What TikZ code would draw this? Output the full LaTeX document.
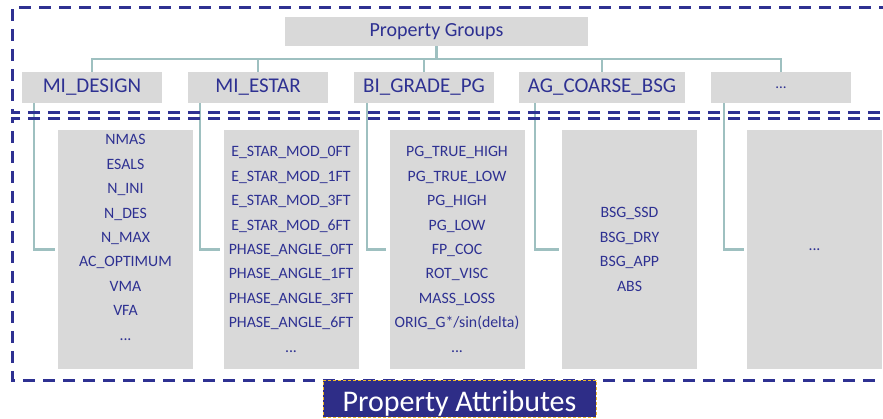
\documentclass[tikz,border=0pt]{standalone}
\usepackage{fontspec}
\setmainfont{Carlito}
\definecolor{navy}{RGB}{46,49,146}
\definecolor{boxgray}{RGB}{217,217,217}
\definecolor{treeline}{RGB}{158,192,192}
\definecolor{gold}{RGB}{240,185,40}
\definecolor{labelblue}{RGB}{46,45,135}

\begin{document}
\begin{tikzpicture}[x=1pt,y=-1pt,
  group/.style={fill=boxgray,text=navy,minimum width=140pt,minimum height=31pt,inner sep=0pt,font=\fontsize{21}{24}\selectfont},
  attr/.style={fill=boxgray,text=navy,minimum width=135pt,minimum height=239pt,inner sep=0pt,align=center,font=\fontsize{15.8}{24.4}\selectfont},
  tree/.style={draw=treeline,line width=2.2pt},
  frame/.style={draw=navy,line width=3pt,dash pattern=on 12pt off 8pt}]
\clip (0,0) rectangle (883,419);
\node[group,minimum width=303pt,minimum height=29pt,font=\fontsize{20}{24}\selectfont] (pg) at (436.5,31.5) {Property Groups};
\node[group] (g1) at (92,87.5) {MI\_DESIGN};
\node[group] (g2) at (258,87.5) {MI\_ESTAR};
\node[group] (g3) at (424,87.5) {BI\_GRADE\_PG};
\node[group,minimum width=166pt] (g4) at (602,87.5) {AG\_COARSE\_BSG};
\node[group,font=\fontsize{15}{18}\selectfont] (g5) at (781,87.5) {...};
\draw[tree] (pg.south) -- ++(0,13) -| (g1.north);
\draw[tree] (pg.south) -- ++(0,13) -| (g2.north);
\draw[tree] (pg.south) -- ++(0,13) -| (g3.north);
\draw[tree] (pg.south) -- ++(0,13) -| (g4.north);
\draw[tree] (pg.south) -- ++(0,13) -| (g5.north);
\node[attr] (a1) at (125.5,249.5) {NMAS\\ESALS\\N\_INI\\N\_DES\\N\_MAX\\AC\_OPTIMUM\\VMA\\VFA\\...\\\mbox{}};
\node[attr] (a2) at (291,249.5) {E\_STAR\_MOD\_0FT\\E\_STAR\_MOD\_1FT\\E\_STAR\_MOD\_3FT\\E\_STAR\_MOD\_6FT\\PHASE\_ANGLE\_0FT\\PHASE\_ANGLE\_1FT\\PHASE\_ANGLE\_3FT\\PHASE\_ANGLE\_6FT\\...};
\node[attr] (a3) at (457,249.5) {PG\_TRUE\_HIGH\\PG\_TRUE\_LOW\\PG\_HIGH\\PG\_LOW\\FP\_COC\\ROT\_VISC\\MASS\_LOSS\\ORIG\_G*/sin(delta)\\...};
\node[attr] (a4) at (629.5,249.5) {BSG\_SSD\\BSG\_DRY\\BSG\_APP\\ABS};
\node[attr] (a5) at (814.5,249.5) {...};
\draw[tree,shorten >=3pt] ([xshift=12pt]g1.south west) |- (a1.west);
\draw[tree,shorten >=3pt] ([xshift=12pt]g2.south west) |- (a2.west);
\draw[tree,shorten >=3pt] ([xshift=13pt]g3.south west) |- (a3.west);
\draw[tree,shorten >=3pt] ([xshift=16pt]g4.south west) |- (a4.west);
\draw[tree,shorten >=3pt] ([xshift=13pt]g5.south west) |- (a5.west);
\draw[frame] (900,113) -| (12,8) -- (900,8);
\draw[frame] (900,119) -| (12,380) -- (900,380);
\node[fill=labelblue,draw=gold,densely dashed,line width=1pt,text=white,minimum width=273pt,minimum height=37pt,inner sep=0pt,text height=26pt,text depth=0pt,font=\fontsize{30}{34}\selectfont] (pa) at (459.5,398.5) {Property Attributes};
\end{tikzpicture}
\end{document}
